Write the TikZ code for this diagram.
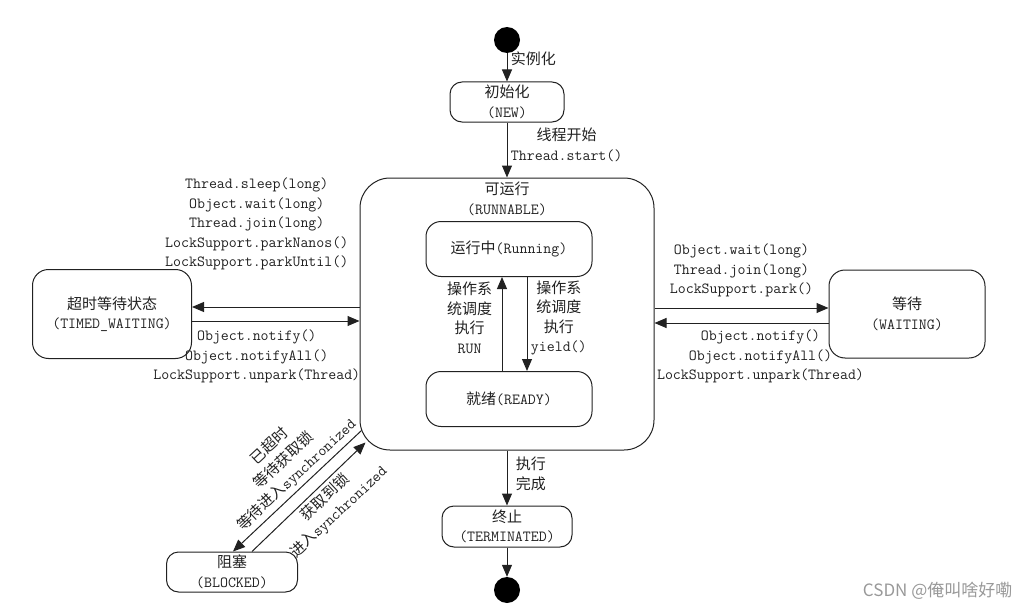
\documentclass[tikz,border=0pt]{standalone}
\usepackage{fontspec}
\setmainfont{Latin Modern Mono}[Scale=1.03]
\newfontfamily\cjk{Noto Sans CJK SC}
\usetikzlibrary{arrows.meta, positioning}
\definecolor{ink}{rgb}{0.13,0.13,0.13}
\definecolor{wmgray}{rgb}{0.6,0.6,0.6}
\tikzstyle{state} = [rectangle,draw=ink,line width=1pt,rounded corners=12pt,align=center,inner sep=1pt]
\tikzstyle{dot} = [circle,fill=black,minimum size=26pt,inner sep=0pt]
\tikzstyle{arr} = [draw=ink,line width=1pt,-{Triangle[length=12pt,width=10pt]}]

\begin{document}
\begin{tikzpicture}[x=1pt,y=1pt,font=\fontsize{15pt}{19.5pt}\selectfont,text=ink]
		\useasboundingbox (0,0) rectangle (1029,-610);
		\node [dot](start) at (507,-40){};
		\node [state,node distance=62pt,below of=start,minimum width=114pt,minimum height=40pt](new){{\cjk 初始化}\\(NEW)};
		\node [state,node distance=212pt,below of=new,minimum width=294pt,minimum height=272pt,rounded corners=30pt](runnable){};
		\node [below=1pt of runnable.north,align=center](runnabletitle){{\cjk 可运行}\\(RUNNABLE)};
		\node [state,node distance=65pt,above of=runnable,xshift=2pt,minimum width=166pt,minimum height=55pt,rounded corners=15pt](running){{\cjk 运行中}(Running)};
		\node [state,node distance=150pt,below of=running,minimum width=166pt,minimum height=55pt,rounded corners=15pt](ready){{\cjk 就绪}(READY)};
		\node [state,node distance=395pt,left of=runnable,minimum width=159pt,minimum height=89pt,rounded corners=16pt](timed){{\cjk 超时等待状态}\\(TIMED\_WAITING)};
		\node [state,node distance=400pt,right of=runnable,minimum width=156pt,minimum height=88pt,rounded corners=16pt](waiting){{\cjk 等待}\\(WAITING)};
		\node [state,node distance=258pt,below of=runnable,xshift=-275pt,minimum width=131pt,minimum height=40pt](blocked){{\cjk 阻塞}\\(BLOCKED)};
		\node [state,node distance=212.5pt,below of=runnable,minimum width=130pt,minimum height=41pt](terminated){{\cjk 终止}\\(TERMINATED)};
		\node [dot,node distance=63.5pt,below of=terminated](final){};
		\node [anchor=east,text=wmgray,font={\fontsize{17pt}{20pt}\cjk}](watermark) at (1016,-591){CSDN @俺叫啥好嘞};

		\draw[arr](start)--node[right,yshift=9pt](newlabel){\cjk 实例化}(new);
		\draw[arr](new)--node[right,yshift=5pt,align=center](startlabel){{\cjk 线程开始}\\Thread.start()}(runnable);
		\draw[arr]([xshift=-7pt]ready.north)--node[left,xshift=-6pt,yshift=6pt,align=center](runlabel){{\cjk 操作系}\\{\cjk 统调度}\\{\cjk 执行}\\RUN}([xshift=-7pt]running.south);
		\draw[arr]([xshift=18pt]running.south)--node[right,xshift=0pt,yshift=6pt,align=center](yieldlabel){{\cjk 操作系}\\{\cjk 统调度}\\{\cjk 执行}\\yield()}([xshift=18pt]ready.north);
		\draw[arr]([yshift=7pt]runnable.west)--node[above=33pt,xshift=-19pt,align=center](timedin){Thread.sleep(long)\\Object.wait(long)\\Thread.join(long)\\LockSupport.parkNanos()\\LockSupport.parkUntil()}([yshift=7pt]runnable.west-|timed.east);
		\draw[arr]([yshift=-7pt]runnable.west-|timed.east)--node[below=5pt,xshift=-19pt,align=center](timedout){Object.notify()\\Object.notifyAll()\\LockSupport.unpark(Thread)}([yshift=-7pt]runnable.west);
		\draw[arr]([yshift=6pt]runnable.east)--node[above=7pt,align=center](waitin){Object.wait(long)\\Thread.join(long)\\LockSupport.park()}([yshift=6pt]runnable.east-|waiting.west);
		\draw[arr]([yshift=-9pt]runnable.east-|waiting.west)--node[below=3pt,xshift=19pt,align=center](waitout){Object.notify()\\Object.notifyAll()\\LockSupport.unpark(Thread)}([yshift=-9pt]runnable.east);
		\draw[arr]([xshift=2pt,yshift=20pt]runnable.south west)--node[pos=0.44,anchor=south,rotate=43,align=center](blockin){{\cjk 已超时}\\{\cjk 等待获取锁}\\{\cjk 等待进入}synchronized}([xshift=1pt]blocked.north);
		\draw[arr]([xshift=20pt]blocked.north)--node[pos=0.575,anchor=north,rotate=43,align=center](blockout){{\cjk 获取到锁}\\{\cjk 进入}synchronized}([xshift=6pt,yshift=8pt]runnable.south west);
		\draw[arr](runnable)--node[right,xshift=5pt,yshift=4pt,align=center](donelabel){{\cjk 执行}\\{\cjk 完成}}(terminated);
		\draw[arr](terminated)--(final);
\end{tikzpicture}
\end{document}
